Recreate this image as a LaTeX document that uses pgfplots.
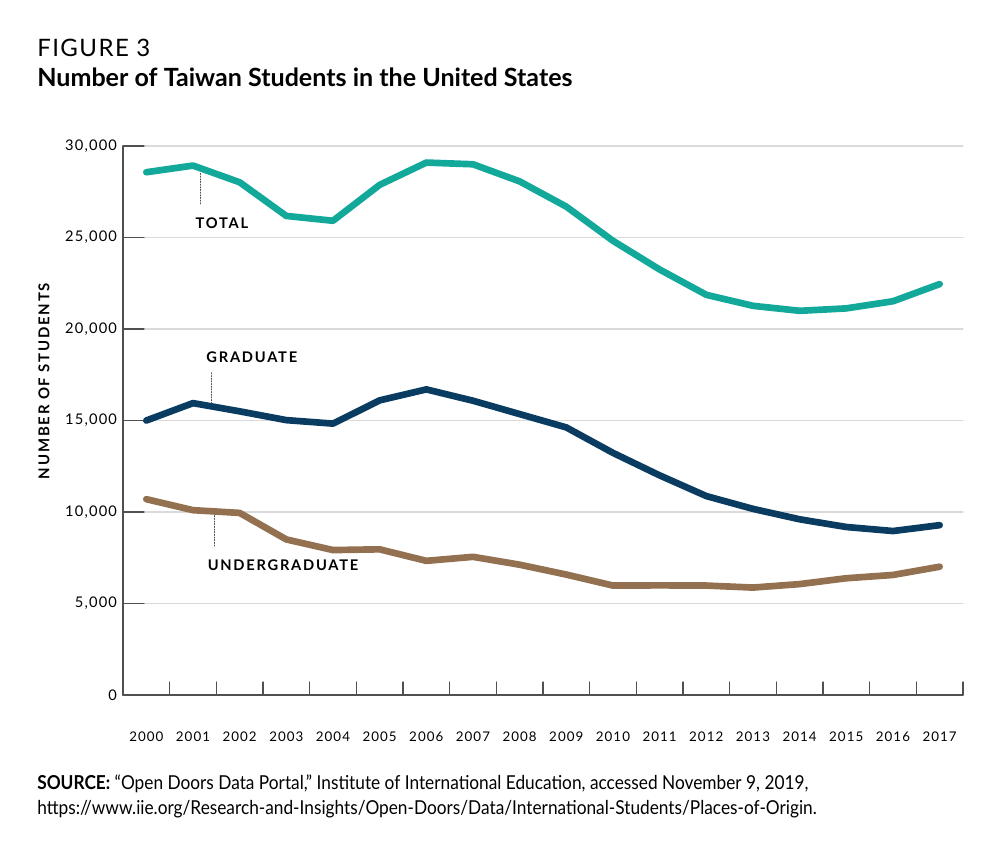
\documentclass[border=0pt]{standalone}
\usepackage{pgfplots}
\pgfplotsset{compat=1.18}
\usepackage{fontspec}
\setmainfont{Lato}
\newfontfamily\srcfont[FakeStretch=0.9]{Lato}
\definecolor{cTotal}{RGB}{18,168,154}
\definecolor{cGrad}{RGB}{10,60,98}
\definecolor{cUnder}{RGB}{147,112,79}
\definecolor{cAxis}{RGB}{80,80,80}
\definecolor{cGrid}{RGB}{218,218,218}
\newcommand{\lbl}[1]{{\bfseries\addfontfeatures{LetterSpace=12}#1}}
\begin{document}
\begin{tikzpicture}
\path[use as bounding box] (0,0) rectangle (750pt,648pt);
\node[anchor=base west,inner sep=0pt,font=\fontsize{18}{20}\selectfont\addfontfeatures{LetterSpace=6}] at (27.75pt,605.25pt) {FIGURE 3};
\node[anchor=base west,inner sep=0pt,font=\fontsize{18.8}{22}\selectfont\bfseries] at (27.75pt,582.75pt) {Number of Taiwan Students in the United States};
\node[anchor=base west,inner sep=0pt,font=\fontsize{14.4}{16}\srcfont] at (27.75pt,55.5pt) {\textbf{SOURCE:} “Open Doors Data Portal,” Institute of International Education, accessed November 9, 2019,};
\node[anchor=base west,inner sep=0pt,font=\fontsize{14.4}{16}\srcfont] at (27.75pt,36.75pt) {https://www.iie.org/Research-and-Insights/Open-Doors/Data/International-Students/Places-of-Origin.};
\node[rotate=90,inner sep=0pt,font=\fontsize{11.2}{13}\selectfont] at (33pt,362.25pt) {\lbl{NUMBER OF STUDENTS}};
\begin{axis}[
  at={(92.25pt,126.75pt)}, anchor=south west,
  scale only axis, width=630pt, height=411.75pt,
  xmin=1999.5, xmax=2017.5, ymin=0, ymax=30000,
  axis x line*=bottom, axis y line*=left,
  axis line style={cAxis, line width=0.9pt, -},
  xtick={2000,...,2017},
  minor xtick={2000.5,2001.5,...,2017.5},
  every major x tick/.style={draw=none},
  minor tick length=9.75pt,
  ytick={0,5000,...,30000},
  major tick length=15.75pt,
  tick align=inside,
  tick style={cAxis, line width=0.9pt},
  ymajorgrids,
  grid style={cGrid, line width=0.9pt},
  /pgf/number format/assume math mode=true,
  /pgf/number format/1000 sep={,},
  yticklabel style={font=\fontsize{11}{13}\selectfont\addfontfeatures{LetterSpace=8}, xshift=-1pt},
  xticklabel style={font=\fontsize{10}{12}\selectfont\addfontfeatures{LetterSpace=8}},
  xticklabel shift=24pt,
  xticklabel={\pgfmathprintnumber[precision=0,1000 sep={}]{\tick}},
  scaled y ticks=false,
  clip=false,
  line join=round, line cap=round,
]
\addplot[cTotal, line width=5pt] coordinates {
(2000,28566) (2001,28930) (2002,28017) (2003,26178) (2004,25914) (2005,27876)
(2006,29094) (2007,29001) (2008,28065) (2009,26685) (2010,24818) (2011,23250)
(2012,21867) (2013,21266) (2014,20993) (2015,21127) (2016,21516) (2017,22454)};
\addplot[cGrad, line width=5pt] coordinates {
(2000,15000) (2001,15950) (2002,15500) (2003,15020) (2004,14830) (2005,16100)
(2006,16700) (2007,16080) (2008,15350) (2009,14620) (2010,13230) (2011,12000)
(2012,10870) (2013,10170) (2014,9600) (2015,9180) (2016,8960) (2017,9280)};
\addplot[cUnder, line width=5pt] coordinates {
(2000,10700) (2001,10100) (2002,9950) (2003,8500) (2004,7920) (2005,7960)
(2006,7330) (2007,7550) (2008,7120) (2009,6580) (2010,5980) (2011,5990)
(2012,5980) (2013,5870) (2014,6060) (2015,6380) (2016,6560) (2017,7010)};
\draw[dash pattern=on 0.8pt off 1.2pt, cAxis, line width=0.7pt] (axis cs:2001.17,28500) -- (axis cs:2001.17,26800);
\draw[dash pattern=on 0.8pt off 1.2pt, cAxis, line width=0.7pt] (axis cs:2001.39,17600) -- (axis cs:2001.39,15950);
\draw[dash pattern=on 0.8pt off 1.2pt, cAxis, line width=0.7pt] (axis cs:2001.45,9800) -- (axis cs:2001.45,8150);
\node[font=\fontsize{11}{13}\selectfont, inner sep=0pt] at (axis cs:2001.62,25800) {\lbl{TOTAL}};
\node[font=\fontsize{11}{13}\selectfont, inner sep=0pt] at (axis cs:2002.26,18450) {\lbl{GRADUATE}};
\node[font=\fontsize{11}{13}\selectfont, inner sep=0pt] at (axis cs:2002.93,7100) {\lbl{UNDERGRADUATE}};
\end{axis}
\end{tikzpicture}
\end{document}
